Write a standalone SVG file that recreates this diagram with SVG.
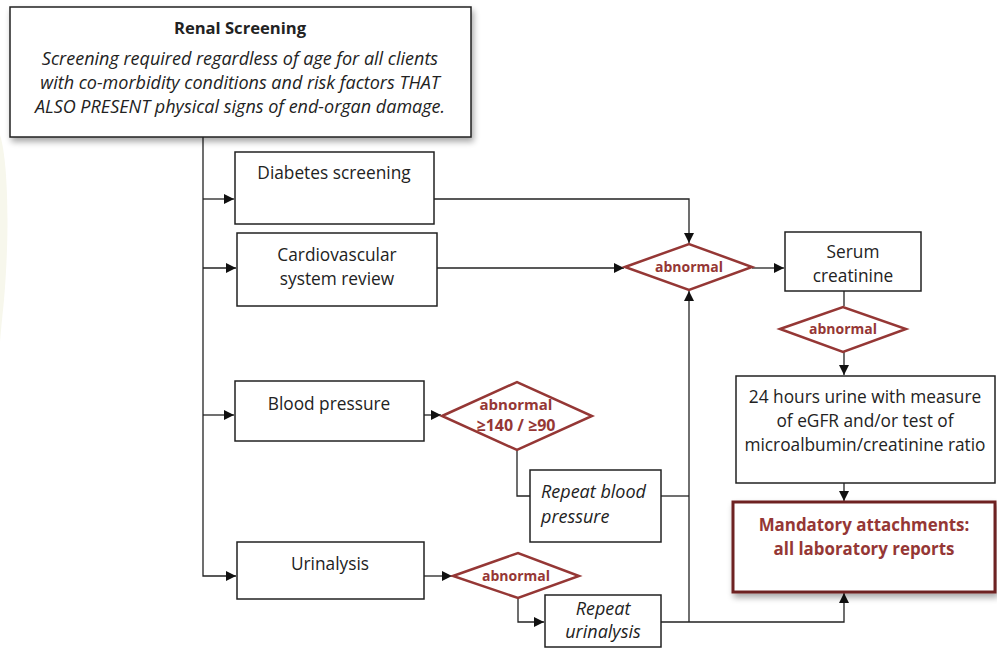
<svg xmlns="http://www.w3.org/2000/svg" width="997" height="649" viewBox="0 0 997 649">
<defs>
<marker id="ah" viewBox="0 0 10 10" refX="10" refY="5" markerWidth="10" markerHeight="10" markerUnits="userSpaceOnUse" orient="auto">
<path d="M0,0 L10,5 L0,10 z" fill="#111"/>
</marker>
<filter id="sh" x="-10%" y="-10%" width="120%" height="140%">
<feGaussianBlur in="SourceAlpha" stdDeviation="3"/>
<feOffset dx="2" dy="4" result="b"/>
<feComponentTransfer><feFuncA type="linear" slope="0.35"/></feComponentTransfer>
<feMerge><feMergeNode/><feMergeNode in="SourceGraphic"/></feMerge>
</filter>
<style>
.box{fill:#fff;stroke:#222;stroke-width:1.5}
.dia{fill:#fff;stroke:#953735;stroke-width:2.5}
.red{fill:#fff;stroke:#6e2424;stroke-width:3}
.t{font-family:"Open Sans","Liberation Sans",sans-serif;font-size:17.3px;fill:#222;text-anchor:middle}
.i{font-style:italic;font-size:18px}
.b{font-weight:bold;font-size:16.6px}
.r{font-family:"Open Sans","Liberation Sans",sans-serif;font-size:14px;font-weight:bold;fill:#953735;text-anchor:middle}
.rr{font-family:"Open Sans","Liberation Sans",sans-serif;font-size:16.9px;font-weight:bold;fill:#953735;text-anchor:middle}
.c{fill:none;stroke:#222;stroke-width:1.3}
</style>
</defs>
<rect width="997" height="649" fill="#fff"/>
<path d="M0,135 C8,160 10,230 4,300 C2,320 0,340 0,345 Z" fill="#f7f7ec"/>

<g id="connectors">
<path class="c" d="M203,137 V576 H236" marker-end="url(#ah)"/>
<path class="c" d="M203,199 H234" marker-end="url(#ah)"/>
<path class="c" d="M203,268 H236" marker-end="url(#ah)"/>
<path class="c" d="M203,415 H234" marker-end="url(#ah)"/>
<path class="c" d="M434,199 H689 V243" marker-end="url(#ah)"/>
<path class="c" d="M437,268 H624" marker-end="url(#ah)"/>
<path class="c" d="M752,268 H784" marker-end="url(#ah)"/>
<path class="c" d="M844,291 V306"/>
<path class="c" d="M844,352 V375" marker-end="url(#ah)"/>
<path class="c" d="M844,483 V501" marker-end="url(#ah)"/>
<path class="c" d="M424,415 H441" marker-end="url(#ah)"/>
<path class="c" d="M517,450 V496 H530"/>
<path class="c" d="M661,496 H689"/>
<path class="c" d="M689,622 V291" marker-end="url(#ah)"/>
<path class="c" d="M424,576 H452" marker-end="url(#ah)"/>
<path class="c" d="M518,598 V622 H544" marker-end="url(#ah)"/>
<path class="c" d="M661,622 H844 V593" marker-end="url(#ah)"/>
</g>

<g id="renal">
<rect class="box" x="10" y="7" width="461" height="130" filter="url(#sh)"/>
<text class="t b" x="240" y="34">Renal Screening</text>
<text class="t i" x="240" y="65">Screening required regardless of age for all clients</text>
<text class="t i" x="240" y="89">with co-morbidity conditions and risk factors THAT</text>
<text class="t i" x="240" y="113">ALSO PRESENT physical signs of end-organ damage.</text>
</g>

<g id="diabetes">
<rect class="box" x="235" y="152" width="199" height="72"/>
<text class="t" x="334" y="179">Diabetes screening</text>
</g>

<g id="cardio">
<rect class="box" x="237" y="233" width="200" height="73"/>
<text class="t" x="337" y="261">Cardiovascular</text>
<text class="t" x="337" y="285">system review</text>
</g>

<g id="abn1">
<polygon class="dia" points="625,267 689,244 752,267 689,290"/>
<text class="r" x="689" y="272">abnormal</text>
</g>

<g id="serum">
<rect class="box" x="785" y="232" width="136" height="59"/>
<text class="t" x="853" y="258">Serum</text>
<text class="t" x="853" y="282">creatinine</text>
</g>

<g id="abn2">
<polygon class="dia" points="780,329 843,307 906,329 843,352"/>
<text class="r" x="843" y="334">abnormal</text>
</g>

<g id="urine24">
<rect class="box" x="736" y="376" width="259" height="107"/>
<text class="t" x="865" y="403">24 hours urine with measure</text>
<text class="t" x="865" y="427">of eGFR and/or test of</text>
<text class="t" x="865" y="451">microalbumin/creatinine ratio</text>
</g>

<g id="mandatory">
<rect class="red" x="733" y="502" width="262" height="90" filter="url(#sh)"/>
<text class="rr" x="864" y="531">Mandatory attachments:</text>
<text class="rr" x="864" y="555">all laboratory reports</text>
</g>

<g id="bp">
<rect class="box" x="235" y="381" width="189" height="60"/>
<text class="t" x="329" y="410">Blood pressure</text>
</g>

<g id="abnbp">
<polygon class="dia" points="442,416 517,382 592,416 517,450"/>
<text class="r" x="516" y="410" style="font-size:15px">abnormal</text>
<text class="r" x="516" y="431" style="font-size:16px">≥140 / ≥90</text>
</g>

<g id="repeatbp">
<rect class="box" x="530" y="470" width="131" height="72"/>
<text class="t i" x="541" y="498" style="text-anchor:start">Repeat blood</text>
<text class="t i" x="541" y="523" style="text-anchor:start">pressure</text>
</g>

<g id="urinalysis">
<rect class="box" x="237" y="542" width="187" height="57"/>
<text class="t" x="330" y="570">Urinalysis</text>
</g>

<g id="abnu">
<polygon class="dia" points="453,576 518,553 579,576 518,598"/>
<text class="r" x="516" y="581">abnormal</text>
</g>

<g id="repeatu">
<rect class="box" x="545" y="595" width="116" height="52"/>
<text class="t i" x="603" y="615">Repeat</text>
<text class="t i" x="603" y="638">urinalysis</text>
</g>
</svg>
